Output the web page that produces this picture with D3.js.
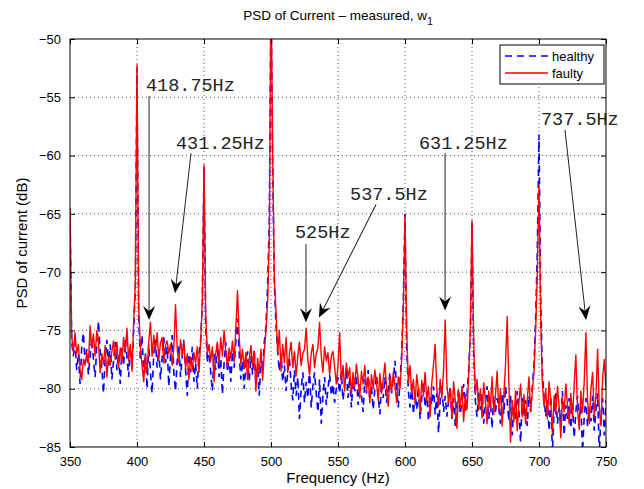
<!DOCTYPE html>
<html>
<head>
<meta charset="utf-8">
<script src="https://cdn.jsdelivr.net/npm/d3@7/dist/d3.min.js"></script>
<style>
body { margin: 0; background: #fff; }
svg { display: block; font-family: "Liberation Sans", Arial, sans-serif; }
</style>
</head>
<body>
<script>
// frequency grid of the PSD: 350 Hz .. 750 Hz in 1.25 Hz steps
var fStart = 350, fStep = 1.25;

// PSD of the healthy machine (dB), one row per 25 Hz
var healthy = [
  -64.8,-76.0,-77.2,-76.0,-78.4,-77.0,-79.6,-76.4,-75.2,-77.8,-76.6,-78.8,-77.2,-75.6,-77.5,-79.0,-76.3,-74.2,-76.8,-78.2,
  -80.4,-77.4,-75.8,-78.0,-76.2,-79.2,-77.6,-76.0,-78.4,-77.0,-79.6,-76.5,-78.0,-75.8,-77.2,-79.0,-76.4,-78.2,-75.0,-71.5,
  -52.5,-73.8,-77.6,-75.4,-78.8,-77.0,-80.0,-76.2,-78.5,-80.4,-77.0,-75.8,-78.2,-76.6,-79.2,-77.4,-75.6,-77.8,-76.4,-79.8,
  -77.2,-75.4,-78.6,-80.2,-77.6,-76.2,-79.0,-77.2,-75.8,-78.4,-80.6,-77.0,-78.6,-76.4,-79.4,-77.8,-80.0,-77.0,-75.8,-72.8,
  -61.0,-74.5,-77.8,-76.4,-78.6,-80.2,-77.0,-78.4,-76.2,-79.0,-77.4,-80.5,-77.8,-76.0,-78.6,-77.2,-79.4,-76.8,-78.2,-76.0,
  -74.0,-77.0,-79.2,-77.6,-80.0,-78.0,-76.8,-79.4,-77.2,-78.8,-76.6,-79.8,-78.0,-80.6,-77.4,-78.2,-76.0,-74.6,-71.0,-65.5,
  -46.0,-61.0,-71.0,-74.6,-76.8,-78.5,-77.0,-79.4,-78.0,-80.2,-78.6,-77.4,-79.6,-81.0,-78.4,-80.6,-79.0,-82.6,-80.0,-78.6,
  -81.2,-79.4,-80.8,-78.2,-81.6,-79.8,-78.6,-80.4,-82.0,-79.2,-83.0,-80.6,-79.0,-81.4,-80.0,-78.8,-80.6,-79.6,-81.2,-80.0,
  -79.0,-80.4,-78.6,-81.0,-79.6,-78.2,-80.8,-79.0,-81.6,-79.4,-80.2,-78.8,-81.4,-79.6,-80.6,-82.0,-79.2,-80.4,-78.4,-81.0,
  -79.8,-81.8,-80.0,-78.8,-80.6,-82.2,-79.4,-80.8,-79.0,-81.2,-80.0,-78.6,-80.4,-79.2,-77.6,-80.0,-81.6,-79.4,-77.0,-72.5,
  -65.0,-76.5,-80.2,-81.6,-79.6,-82.2,-80.4,-81.8,-79.8,-82.6,-80.8,-79.4,-81.6,-80.2,-82.8,-80.6,-81.4,-79.8,-82.2,-80.4,
  -83.8,-81.0,-79.6,-82.0,-80.6,-82.4,-81.0,-79.8,-82.6,-80.8,-83.2,-81.4,-80.0,-82.2,-81.0,-79.6,-82.0,-80.6,-78.4,-75.5,
  -65.8,-77.0,-81.0,-82.4,-80.2,-81.8,-80.4,-83.0,-81.2,-79.8,-82.6,-81.0,-83.4,-80.6,-82.0,-80.8,-81.6,-83.0,-80.4,-82.2,
  -79.8,-81.0,-82.8,-80.6,-84.0,-81.4,-82.6,-80.2,-81.8,-84.6,-80.8,-82.4,-81.0,-83.2,-80.6,-82.0,-79.8,-78.0,-74.0,-68.0,
  -58.2,-72.0,-78.5,-80.8,-82.4,-81.0,-83.6,-80.6,-85.5,-82.0,-80.4,-83.0,-81.6,-82.8,-80.2,-84.0,-81.4,-82.6,-80.8,-83.4,
  -81.2,-84.2,-82.0,-80.6,-82.8,-81.4,-85.4,-82.4,-80.8,-83.2,-81.6,-82.8,-80.6,-83.6,-81.8,-80.4,-85.6,-82.2,-80.8,-84.0,
  -81.0
];

// PSD of the faulty machine (dB)
var faulty = [
  -64.5,-75.5,-76.8,-75.2,-77.0,-76.2,-78.3,-79.2,-77.5,-78.0,-76.9,-77.8,-74.6,-76.5,-75.3,-77.2,-75.0,-76.0,-78.6,-77.0,
  -77.9,-76.3,-79.0,-77.2,-78.0,-76.8,-75.9,-77.5,-76.0,-78.2,-76.5,-77.8,-75.6,-76.9,-74.8,-77.6,-76.2,-78.5,-74.3,-71.0,
  -52.2,-73.0,-76.5,-78.0,-79.4,-77.0,-78.6,-76.0,-74.3,-77.2,-75.4,-76.8,-75.2,-77.5,-76.1,-75.6,-77.8,-76.3,-75.9,-77.0,
  -76.2,-78.0,-76.5,-72.8,-76.6,-77.8,-75.8,-77.1,-76.0,-78.3,-77.0,-79.2,-77.3,-78.4,-76.9,-77.8,-76.4,-78.6,-76.0,-72.5,
  -60.8,-73.5,-77.0,-76.2,-77.6,-76.4,-79.4,-77.0,-76.0,-77.8,-75.6,-77.2,-75.0,-76.8,-78.1,-76.5,-77.4,-75.9,-77.7,-74.8,
  -71.6,-75.5,-77.9,-76.6,-78.3,-76.9,-79.2,-77.5,-76.3,-78.0,-76.8,-80.2,-77.4,-78.7,-76.6,-79.3,-76.8,-75.0,-72.5,-67.0,
  -45.0,-60.0,-70.5,-73.5,-77.0,-75.0,-78.5,-76.2,-77.8,-75.6,-78.6,-77.0,-76.0,-78.2,-76.8,-78.9,-77.2,-76.0,-78.0,-77.0,
  -76.6,-74.8,-77.5,-78.8,-77.0,-76.2,-78.2,-77.0,-76.5,-74.3,-77.2,-78.6,-76.4,-77.6,-76.9,-78.8,-77.2,-76.8,-78.2,-79.6,
  -78.0,-75.2,-79.5,-78.0,-80.2,-77.8,-79.0,-78.2,-80.5,-78.6,-79.8,-77.9,-79.2,-80.8,-78.5,-79.6,-78.0,-80.2,-79.0,-81.2,
  -78.8,-80.0,-78.4,-79.5,-81.0,-78.7,-80.4,-79.2,-77.8,-79.9,-81.5,-79.0,-80.3,-78.6,-79.7,-81.2,-79.0,-80.0,-77.5,-73.0,
  -65.2,-75.0,-79.5,-78.0,-80.5,-79.2,-81.3,-78.8,-80.0,-82.0,-79.3,-80.6,-78.6,-81.0,-79.8,-82.4,-79.5,-78.0,-76.2,-80.0,
  -81.5,-79.2,-80.8,-78.5,-74.1,-79.6,-81.2,-80.0,-82.5,-79.4,-81.0,-83.4,-80.2,-81.6,-79.8,-82.8,-80.5,-81.8,-79.0,-75.0,
  -65.6,-76.0,-80.5,-79.2,-81.8,-80.0,-82.5,-79.5,-81.0,-83.0,-80.2,-81.6,-79.0,-82.2,-80.6,-78.5,-81.8,-80.0,-83.2,-80.6,
  -78.0,-73.8,-79.5,-84.6,-81.0,-82.8,-80.2,-83.6,-81.2,-79.6,-82.4,-80.5,-83.0,-81.0,-79.0,-82.0,-80.3,-78.5,-75.0,-70.0,
  -62.5,-74.0,-79.5,-81.5,-80.0,-82.6,-79.4,-81.0,-83.8,-80.6,-82.2,-79.8,-81.5,-84.2,-80.8,-82.0,-79.6,-81.4,-83.0,-80.4,
  -82.5,-79.6,-77.1,-81.8,-83.5,-80.2,-82.0,-79.4,-75.2,-81.0,-83.0,-80.0,-78.6,-82.4,-80.6,-76.6,-81.8,-83.2,-79.0,-77.5,
  -80.0
];

var xTicks = [350, 400, 450, 500, 550, 600, 650, 700, 750];
var yTicks = [-85, -80, -75, -70, -65, -60, -55, -50];

// arrow annotations: label position and arrow tail/tip, all in (Hz, dB)
var noteLabels = ["418.75Hz", "431.25Hz", "525Hz", "537.5Hz", "631.25Hz", "737.5Hz"];
var noteText  = [[406.7, -54.5], [429.1, -59.4], [517.9, -67.1], [559.0, -63.8], [610.4, -59.4], [701.5, -57.4]];
var noteTail  = [[409.0, -54.9], [440.3, -59.8], [526.1, -67.6], [578.4, -64.2], [629.9, -59.8], [719.4, -57.8]];
var noteTip   = [[409.0, -74.1], [428.4, -71.8], [526.1, -74.3], [535.8, -73.9], [629.9, -73.3], [735.1, -74.1]];

var W = 644, H = 489;
var margin = {top: 39, right: 38, bottom: 42, left: 70},
    width = W - margin.left - margin.right,
    height = H - margin.top - margin.bottom;

var x = d3.scaleLinear().domain([350, 750]).range([0, width]);
var y = d3.scaleLinear().domain([-85, -50]).range([height, 0]);

var svg = d3.select("body").append("svg")
    .attr("width", W)
    .attr("height", H);

var g = svg.append("g")
    .attr("transform", "translate(" + margin.left + "," + margin.top + ")");

g.append("clipPath").attr("id", "clip")
  .append("rect").attr("width", width).attr("height", height);

// dotted grid
g.append("g").selectAll("line").data(xTicks.slice(1, -1)).enter().append("line")
    .attr("x1", d => x(d)).attr("x2", d => x(d))
    .attr("y1", 0).attr("y2", height)
    .attr("stroke", "#555").attr("stroke-dasharray", "1,3");
g.append("g").selectAll("line").data(yTicks.slice(1, -1)).enter().append("line")
    .attr("y1", d => y(d)).attr("y2", d => y(d))
    .attr("x1", 0).attr("x2", width)
    .attr("stroke", "#555").attr("stroke-dasharray", "1,3");

var line = d3.line()
    .x(function(d, i) { return x(fStart + i * fStep); })
    .y(function(d) { return y(d); });

var plot = g.append("g").attr("clip-path", "url(#clip)");

plot.append("path")
    .datum(healthy)
    .attr("fill", "none")
    .attr("stroke", "#0000ff")
    .attr("stroke-width", 1.6)
    .attr("stroke-dasharray", "7,5")
    .attr("d", line);

plot.append("path")
    .datum(faulty)
    .attr("fill", "none")
    .attr("stroke", "#ff0000")
    .attr("stroke-width", 1.4)
    .attr("stroke-linejoin", "round")
    .attr("d", line);

// axes, MATLAB style: ticks inside on all four sides
function styleAxis(sel) {
  sel.select(".domain").remove();
  sel.selectAll("line").attr("stroke", "#000");
  sel.selectAll("text").attr("font-size", 13).attr("fill", "#000")
     .attr("font-family", "'Liberation Sans', Arial, sans-serif");
}
var fmt = d => d < 0 ? "\u2212" + Math.abs(d) : d;

g.append("g").attr("transform", "translate(0," + height + ")")
    .call(d3.axisBottom(x).tickValues(xTicks).tickSizeInner(-5).tickSizeOuter(0).tickPadding(10))
    .call(styleAxis);
g.append("g")
    .call(d3.axisTop(x).tickValues(xTicks).tickSizeInner(-5).tickSizeOuter(0).tickFormat(""))
    .call(styleAxis);
g.append("g")
    .call(d3.axisLeft(y).tickValues(yTicks).tickSizeInner(-5).tickSizeOuter(0).tickPadding(9).tickFormat(fmt))
    .call(styleAxis);
g.append("g").attr("transform", "translate(" + width + ",0)")
    .call(d3.axisRight(y).tickValues(yTicks).tickSizeInner(-5).tickSizeOuter(0).tickFormat(""))
    .call(styleAxis);

g.append("rect")
    .attr("width", width).attr("height", height)
    .attr("fill", "none").attr("stroke", "#000").attr("stroke-width", 1);

// annotations
var notes = g.append("g");
noteLabels.forEach(function(lbl, i) {
  var x0 = x(noteTail[i][0]), y0 = y(noteTail[i][1]);
  var x1 = x(noteTip[i][0]), y1 = y(noteTip[i][1]);
  var ang = Math.atan2(y1 - y0, x1 - x0) * 180 / Math.PI;
  var len = Math.hypot(x1 - x0, y1 - y0);
  var a = notes.append("g")
      .attr("transform", "translate(" + x0 + "," + y0 + ") rotate(" + ang + ")");
  a.append("line")
      .attr("x1", 0).attr("y1", 0).attr("x2", len - 8).attr("y2", 0)
      .attr("stroke", "#222").attr("stroke-width", 1);
  a.append("path")
      .attr("d", "M" + len + ",0 L" + (len - 14) + ",-6 L" + (len - 9) + ",0 L" + (len - 14) + ",6 Z")
      .attr("fill", "#000");
  notes.append("text")
      .attr("x", x(noteText[i][0])).attr("y", y(noteText[i][1]))
      .attr("font-family", "'Liberation Mono', 'Courier New', monospace")
      .attr("font-size", 18.5)
      .attr("fill", "#222")
      .text(lbl);
});

// legend
var leg = g.append("g").attr("transform", "translate(" + (width - 106) + ",6)");
leg.append("rect").attr("width", 104).attr("height", 39)
    .attr("fill", "#fff").attr("stroke", "#000");
leg.append("line").attr("x1", 5).attr("x2", 48).attr("y1", 11).attr("y2", 11)
    .attr("stroke", "#0000ff").attr("stroke-width", 1.6).attr("stroke-dasharray", "7,5");
leg.append("line").attr("x1", 5).attr("x2", 48).attr("y1", 28).attr("y2", 28)
    .attr("stroke", "#ff0000").attr("stroke-width", 1.4);
leg.append("text").attr("x", 52).attr("y", 15.5).attr("font-size", 13).text("healthy");
leg.append("text").attr("x", 52).attr("y", 32.5).attr("font-size", 13).text("faulty");

// title and axis labels
var title = svg.append("text")
    .attr("x", margin.left + width / 2).attr("y", 20)
    .attr("text-anchor", "middle").attr("font-size", 13.5);
title.append("tspan").text("PSD of Current \u2013 measured, w");
title.append("tspan").attr("dy", 5).attr("font-size", 10).text("1");

svg.append("text")
    .attr("x", margin.left + width / 2).attr("y", H - 6)
    .attr("text-anchor", "middle").attr("font-size", 15)
    .text("Frequency (Hz)");

svg.append("text")
    .attr("transform", "translate(27," + (margin.top + height / 2) + ") rotate(-90)")
    .attr("text-anchor", "middle").attr("font-size", 15)
    .text("PSD of current (dB)");
</script>
</body>
</html>
